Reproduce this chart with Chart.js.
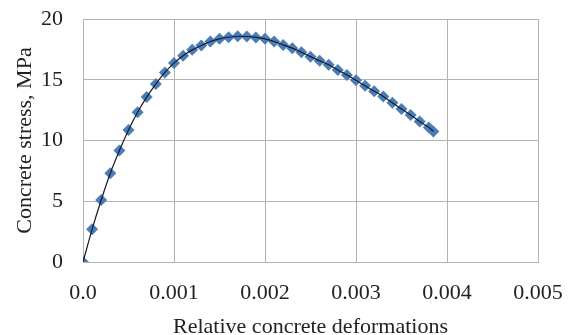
<!DOCTYPE html>
<html>
<head>
<meta charset="utf-8">
<script src="https://cdn.jsdelivr.net/npm/chart.js@4"></script>
<style>
  body { margin: 0; background: #fff; }
  #wrap { width: 572px; height: 335px; }
</style>
</head>
<body>
<div id="wrap"><canvas id="myChart" width="572" height="335"></canvas></div>
<script>
var strain = [0, 0.0001, 0.0002, 0.0003, 0.0004, 0.0005, 0.0006, 0.0007, 0.0008, 0.0009,
    0.001, 0.0011, 0.0012, 0.0013, 0.0014, 0.0015, 0.0016, 0.0017, 0.0018, 0.0019,
    0.002, 0.0021, 0.0022, 0.0023, 0.0024, 0.0025, 0.0026, 0.0027, 0.0028, 0.0029,
    0.003, 0.0031, 0.0032, 0.0033, 0.0034, 0.0035, 0.0036, 0.0037, 0.0038, 0.00385];
var stress = [0, 2.69, 5.1, 7.3, 9.17, 10.87, 12.33, 13.57, 14.64, 15.6,
    16.37, 16.97, 17.46, 17.82, 18.15, 18.37, 18.5, 18.58, 18.56, 18.48,
    18.37, 18.15, 17.87, 17.6, 17.27, 16.9, 16.56, 16.23, 15.8, 15.4,
    14.95, 14.5, 14.05, 13.62, 13.1, 12.6, 12.1, 11.56, 11.08, 10.75];
var xTicks = ['0.0', '0.001', '0.002', '0.003', '0.004', '0.005'];
var yTicks = ['0', '5', '10', '15', '20'];

var points = strain.map(function (x, i) { return { x: x, y: stress[i] }; });
var gridColor = '#b3b3b3';
var font = { family: 'Liberation Serif', size: 22 };

var ctx = document.getElementById('myChart').getContext('2d');
var myChart = new Chart(ctx, {
    type: 'scatter',
    data: {
        datasets: [{
            label: 'curve',
            data: points,
            showLine: true,
            borderColor: '#1a1a1a',
            borderWidth: 1.2,
            pointRadius: 0,
            cubicInterpolationMode: 'monotone',
            order: 0
        }, {
            label: 'points',
            data: points,
            pointStyle: 'rectRot',
            pointRadius: 6,
            backgroundColor: '#4a7ebb',
            borderColor: '#4a7ebb',
            borderWidth: 0,
            order: 1
        }]
    },
    options: {
        responsive: false,
        animation: false,
        layout: { padding: { top: 19, right: 34, left: 0, bottom: 0 } },
        plugins: { legend: { display: false }, tooltip: { enabled: false } },
        scales: {
            x: {
                type: 'linear',
                min: 0,
                max: 0.005,
                afterFit: function (s) {
                    s.height = 73;
                    s.paddingLeft = 0;
                    s.paddingRight = 0;
                },
                ticks: {
                    stepSize: 0.001,
                    padding: 18,
                    color: '#222',
                    font: font,
                    callback: function (v) { return xTicks[Math.round(v / 0.001)]; }
                },
                grid: { color: gridColor, drawTicks: false },
                border: { color: gridColor },
                title: {
                    display: true,
                    text: 'Relative concrete deformations',
                    color: '#222',
                    font: font,
                    padding: { top: 0, bottom: -5 }
                }
            },
            y: {
                min: 0,
                max: 20,
                afterFit: function (s) {
                    s.width = 83;
                    s.paddingTop = 0;
                    s.paddingBottom = 0;
                },
                ticks: {
                    stepSize: 5,
                    padding: 20,
                    color: '#222',
                    font: font,
                    callback: function (v) { return yTicks[Math.round(v / 5)]; }
                },
                grid: { color: gridColor, drawTicks: false },
                border: { color: gridColor },
                title: {
                    display: true,
                    text: 'Concrete stress, MPa',
                    color: '#222',
                    font: font,
                    padding: { top: 12, bottom: 0 }
                }
            }
        }
    }
});
</script>
</body>
</html>
